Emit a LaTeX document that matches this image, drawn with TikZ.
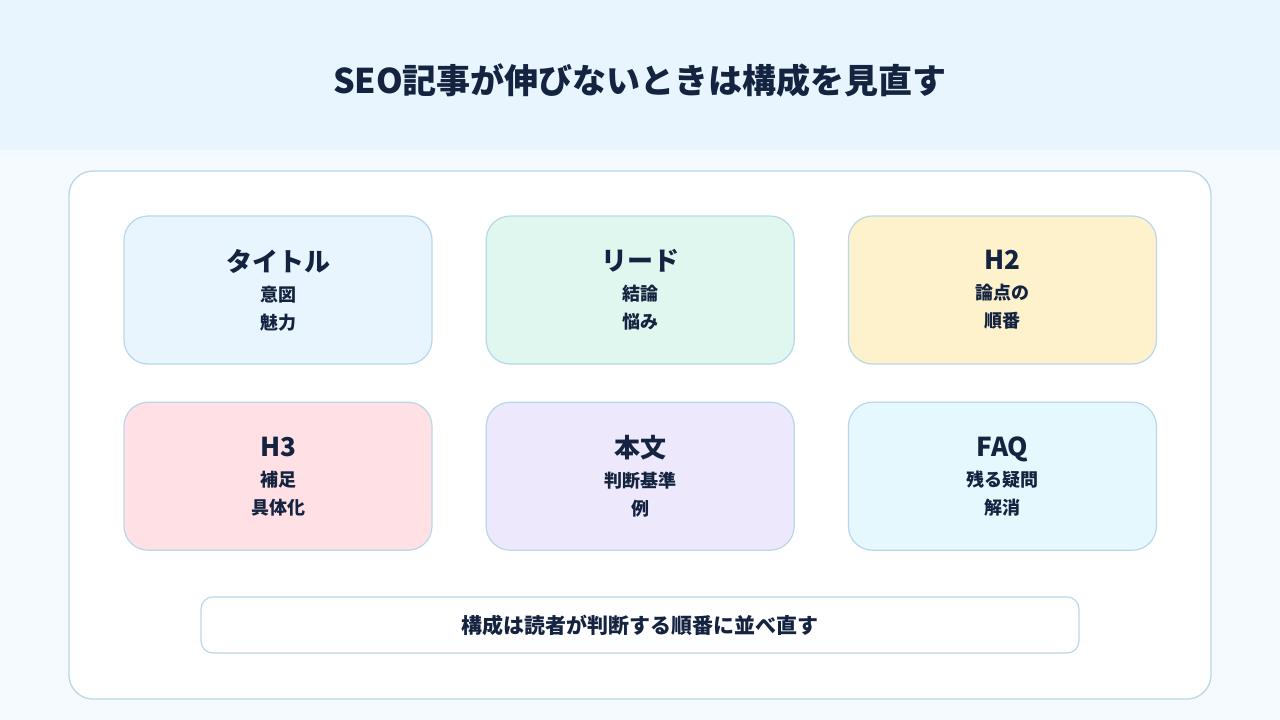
\documentclass[tikz,border=0pt]{standalone}
\usepackage{fontspec}
\setmainfont{Noto Sans CJK JP}
\usetikzlibrary{positioning}
\usepackage{xcolor}
\definecolor{HeadBlue}{HTML}{E8F4FE}
\definecolor{PageBg}{HTML}{F5FAFE}
\definecolor{EdgeBlue}{HTML}{B9D7EA}
\definecolor{InkNavy}{HTML}{14233F}
\definecolor{CardBlue}{HTML}{E8F4FE}
\definecolor{CardMint}{HTML}{E0F7EF}
\definecolor{CardSand}{HTML}{FEF2CD}
\definecolor{CardRose}{HTML}{FFE0E4}
\definecolor{CardLilac}{HTML}{EEE8FD}
\definecolor{CardSky}{HTML}{E4F8FD}
\tikzset{
  headtitle/.style={text=InkNavy,font=\fontsize{34}{40}\selectfont\bfseries},
  panelbox/.style={draw=EdgeBlue,line width=1.3pt,fill=white,rounded corners=24pt,
    minimum width=1142pt,minimum height=528pt},
  cardbox/.style={draw=EdgeBlue,line width=1.2pt,rounded corners=24pt,
    minimum width=308pt,minimum height=148pt,align=center,text=InkNavy,
    font=\fontsize{18}{28}\selectfont\bfseries},
  notebox/.style={draw=EdgeBlue,line width=1.2pt,fill=white,rounded corners=12pt,
    minimum width=878pt,minimum height=56pt,text=InkNavy,
    font=\fontsize{21}{24}\selectfont\bfseries},
}
\newcommand{\cardhead}[1]{{\fontsize{26}{30}\selectfont #1}\\[2pt]}

\begin{document}
\begin{tikzpicture}[x=1pt,y=-1pt,node distance=37pt and 53pt]
  \fill[PageBg] (0,0) rectangle (1280,720);
  \fill[HeadBlue] (0,0) rectangle (1280,150);
  \useasboundingbox (0,0) rectangle (1280,720);
  \node[headtitle] (title) at (640,80) {SEO記事が伸びないときは構成を見直す};
  \node[panelbox] (panel) at (640,435) {};
  % top row
  \node[cardbox,fill=CardBlue] (titlecard) at (278,290) {\cardhead{タイトル}意図\\魅力};
  \node[cardbox,fill=CardMint,right=of titlecard] (lead) {\cardhead{リード}結論\\悩み};
  \node[cardbox,fill=CardSand,right=of lead] (htwo) {\cardhead{H2}論点の\\順番};
  % bottom row
  \node[cardbox,fill=CardRose,below=of titlecard] (hthree) {\cardhead{H3}補足\\具体化};
  \node[cardbox,fill=CardLilac,below=of lead] (body) {\cardhead{本文}判断基準\\例};
  \node[cardbox,fill=CardSky,below=of htwo] (faq) {\cardhead{FAQ}残る疑問\\解消};
  \node[notebox] (note) at (640,625) {構成は読者が判断する順番に並べ直す};
\end{tikzpicture}
\end{document}
